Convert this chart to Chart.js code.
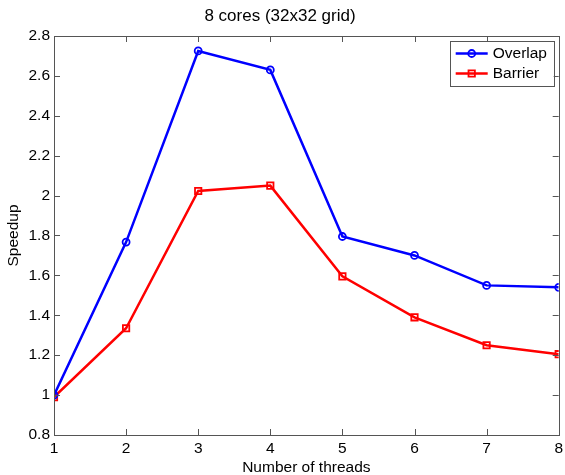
<!DOCTYPE html>
<html>
<head>
<meta charset="utf-8">
<title>8 cores (32x32 grid)</title>
<script src="https://cdn.jsdelivr.net/npm/chart.js@4.4.1/dist/chart.umd.min.js"></script>
<style>
  html, body { margin: 0; padding: 0; background: #fff; }
  #wrap { width: 565px; height: 475px; position: relative; }
</style>
</head>
<body>
<div id="wrap"><canvas id="speedupChart"></canvas></div>
<script>
// datos
const threads = [1, 2, 3, 4, 5, 6, 7, 8];
const overlap = [1.0, 1.767, 2.725, 2.63, 1.795, 1.70, 1.55, 1.54];
const barrier = [0.99, 1.335, 2.023, 2.05, 1.595, 1.39, 1.25, 1.205];
const yTicks = [0.8, 1, 1.2, 1.4, 1.6, 1.8, 2, 2.2, 2.4, 2.6, 2.8];

const FONT = "'Liberation Sans', Arial, Helvetica, sans-serif";
const AXIS_COLOR = '#555';

// ticks hacia adentro y caja completa, estilo matlab
const boxTicks = {
  id: 'boxTicks',
  afterDatasetsDraw(chart) {
    const { ctx, chartArea: a, scales: { x, y } } = chart;
    const len = 6;
    ctx.save();
    ctx.strokeStyle = AXIS_COLOR;
    ctx.lineWidth = 1;
    ctx.beginPath();
    x.ticks.forEach(t => {
      const px = Math.round(x.getPixelForValue(t.value)) + 0.5;
      ctx.moveTo(px, a.bottom); ctx.lineTo(px, a.bottom - len);
      ctx.moveTo(px, a.top); ctx.lineTo(px, a.top + len);
    });
    y.ticks.forEach(t => {
      const py = Math.round(y.getPixelForValue(t.value)) + 0.5;
      ctx.moveTo(a.left, py); ctx.lineTo(a.left + len, py);
      ctx.moveTo(a.right, py); ctx.lineTo(a.right - len, py);
    });
    ctx.stroke();
    ctx.strokeRect(Math.round(a.left) + 0.5, Math.round(a.top) + 0.5,
      Math.round(a.right - a.left), Math.round(a.bottom - a.top));
    ctx.restore();
  }
};

// leyenda con linea + marcador
const matlabLegend = {
  id: 'matlabLegend',
  afterDraw(chart) {
    const { ctx, chartArea: a } = chart;
    const boxW = 104, boxH = 45;
    const bx = a.right - 5 - boxW, by = a.top + 5;
    ctx.save();
    ctx.fillStyle = '#fff';
    ctx.fillRect(bx, by, boxW, boxH);
    ctx.strokeStyle = AXIS_COLOR;
    ctx.lineWidth = 1;
    ctx.strokeRect(Math.round(bx) + 0.5, Math.round(by) + 0.5, boxW, boxH);
    ctx.font = '15.5px ' + FONT;
    ctx.textBaseline = 'middle';
    chart.data.datasets.forEach((ds, i) => {
      const cy = by + 12.5 + i * 20;
      const x0 = bx + 6, x1 = bx + 38, cx = (x0 + x1) / 2;
      ctx.strokeStyle = ds.borderColor;
      ctx.lineWidth = ds.borderWidth;
      ctx.beginPath();
      ctx.moveTo(x0, cy); ctx.lineTo(x1, cy);
      ctx.stroke();
      ctx.lineWidth = ds.pointBorderWidth;
      ctx.fillStyle = 'rgba(0,0,0,0)';
      Chart.helpers.drawPoint(ctx, {
        pointStyle: ds.pointStyle, radius: ds.pointRadius, rotation: 0, borderWidth: ds.pointBorderWidth
      }, cx, cy);
      ctx.fillStyle = '#000';
      ctx.fillText(ds.label, x1 + 5, cy + 0.5);
    });
    ctx.restore();
  }
};

new Chart(document.getElementById('speedupChart'), {
  type: 'line',
  data: {
    datasets: [
      {
        label: 'Overlap',
        data: threads.map((t, i) => ({ x: t, y: overlap[i] })),
        borderColor: '#0000ff',
        backgroundColor: 'rgba(0,0,0,0)',
        borderWidth: 2.5,
        pointStyle: 'circle',
        pointRadius: 3.5,
        pointBorderWidth: 1.8,
        pointBackgroundColor: 'rgba(0,0,0,0)',
        tension: 0
      },
      {
        label: 'Barrier',
        data: threads.map((t, i) => ({ x: t, y: barrier[i] })),
        borderColor: '#ff0000',
        backgroundColor: 'rgba(0,0,0,0)',
        borderWidth: 2.5,
        pointStyle: 'rect',
        pointRadius: 4.5,
        pointBorderWidth: 1.8,
        pointBackgroundColor: 'rgba(0,0,0,0)',
        tension: 0
      }
    ]
  },
  options: {
    responsive: true,
    maintainAspectRatio: false,
    animation: false,
    layout: { padding: { left: 0, right: 5, top: 0, bottom: 0 } },
    plugins: {
      legend: { display: false },
      tooltip: { enabled: false },
      title: {
        display: true,
        text: '8 cores (32x32 grid)',
        color: '#000',
        font: { family: FONT, size: 17, weight: 'normal', lineHeight: 1.2 },
        padding: { top: 6.5, bottom: 9.1 }
      }
    },
    scales: {
      x: {
        type: 'linear',
        min: 1,
        max: 8,
        ticks: {
          stepSize: 1,
          color: '#000',
          padding: 4,
          font: { family: FONT, size: 15.5 }
        },
        grid: { display: false, drawTicks: false },
        border: { display: false },
        title: {
          display: true,
          text: 'Number of threads',
          color: '#000',
          font: { family: FONT, size: 15.5, lineHeight: 1 },
          padding: 0
        },
        afterFit(scale) {
          scale.height = 40;
          scale.paddingLeft = 0;
          scale.paddingRight = 0;
        }
      },
      y: {
        min: 0.8,
        max: 2.8,
        afterBuildTicks(scale) { scale.ticks = yTicks.map(v => ({ value: v })); },
        ticks: {
          color: '#000',
          padding: 4,
          font: { family: FONT, size: 15.5 },
          callback: v => String(Number(v.toFixed(1)))
        },
        grid: { display: false, drawTicks: false },
        border: { display: false },
        title: {
          display: true,
          text: 'Speedup',
          color: '#000',
          font: { family: FONT, size: 15.5, lineHeight: 1.2 },
          padding: { top: 4, bottom: 0 }
        },
        afterFit(scale) {
          scale.width = 54;
          scale.paddingTop = 0;
          scale.paddingBottom = 0;
        }
      }
    }
  },
  plugins: [boxTicks, matlabLegend]
});
</script>
</body>
</html>
